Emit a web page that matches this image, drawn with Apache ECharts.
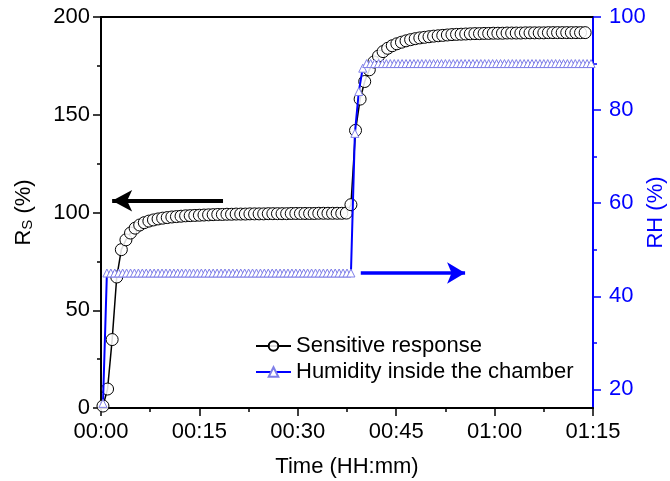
<!DOCTYPE html>
<html>
<head>
<meta charset="utf-8">
<script src="https://cdn.jsdelivr.net/npm/echarts@6/dist/echarts.min.js"></script>
<style>
html,body{margin:0;padding:0;background:#fff;overflow:hidden;width:670px;height:481px;}
#chart{width:670px;height:481px;}
</style>
</head>
<body>
<div id="chart"></div>
<script>
// ---- data ----
// Sensitive response Rs (%), sampled every 0.7 min starting at 0.3 min
const rsStartMin = 0.3;
const rsStepMin = 0.7;
const rsValues = [
  1, 9.7, 35, 67, 81, 86, 89.5, 92, 93.6, 94.8,
  95.6, 96.2, 96.7, 97.1, 97.4, 97.7, 97.9, 98.1, 98.3, 98.4,
  98.5, 98.6, 98.7, 98.8, 98.9, 99.0, 99.0, 99.1, 99.1, 99.2,
  99.2, 99.2, 99.3, 99.3, 99.3, 99.3, 99.4, 99.4, 99.4, 99.4,
  99.4, 99.5, 99.5, 99.5, 99.5, 99.5, 99.5, 99.6, 99.6, 99.6,
  99.6, 99.6, 99.6, 99.7, 104, 142, 158, 167, 173, 177,
  180, 182.3, 184, 185.3, 186.3, 187.1, 187.8, 188.4, 188.9, 189.3,
  189.6, 189.9, 190.2, 190.4, 190.6, 190.8, 191.0, 191.1, 191.2, 191.3,
  191.4, 191.5, 191.5, 191.6, 191.6, 191.7, 191.7, 191.7, 191.8, 191.8,
  191.8, 191.8, 191.9, 191.9, 191.9, 191.9, 191.9, 192.0, 192.0, 192.0,
  192.0, 192.0, 192.0, 192.0, 192.0, 192.0
];
// Humidity inside the chamber RH (%), sampled every 0.6 min starting at 0.3 min
const rhStartMin = 0.3;
const rhStepMin = 0.6;
const rhValues = [
  17,
  45, 45, 45, 45, 45, 45, 45, 45, 45, 45, 45, 45, 45, 45, 45, 45, 45, 45, 45, 45, 45,
  45, 45, 45, 45, 45, 45, 45, 45, 45, 45, 45, 45, 45, 45, 45, 45, 45, 45, 45, 45, 45,
  45, 45, 45, 45, 45, 45, 45, 45, 45, 45, 45, 45, 45, 45, 45, 45, 45, 45, 45, 45, 45,
  75, 84, 89,
  90, 90, 90, 90, 90, 90, 90, 90, 90, 90, 90, 90, 90, 90, 90, 90, 90, 90, 90, 90,
  90, 90, 90, 90, 90, 90, 90, 90, 90, 90, 90, 90, 90, 90, 90, 90, 90, 90, 90, 90,
  90, 90, 90, 90, 90, 90, 90, 90, 90, 90, 90, 90, 90, 90, 90, 90, 90, 90
];
const timeTickLabels = ['00:00', '00:15', '00:30', '00:45', '01:00', '01:15'];
const rhMajorTicks = [20, 40, 60, 80, 100];
const rhMinorTicks = [30, 50, 70, 90];
const seriesNames = ['Sensitive response', 'Humidity inside the chamber'];
// annotation arrows (data coordinates)
const rsArrow = [[18.6, 106], [1.7, 106]];
const rhArrow = [[39.6, 45], [55.5, 45]];

const rsData = rsValues.map((v, i) => [rsStartMin + i * rsStepMin, v]);
const rhData = rhValues.map((v, i) => [rhStartMin + i * rhStepMin, v]);

const FONT = 'Liberation Sans, Arial, Helvetica, sans-serif';
const FS = 22;
const BLUE = '#0000ff';
const GRID = {left: 101, right: 77, top: 17, bottom: 73, containLabel: false, outerBoundsMode: 'none'};

const chart = echarts.init(document.getElementById('chart'), null, {renderer: 'canvas', width: 670, height: 481});
chart.setOption({
  animation: false,
  backgroundColor: '#fff',
  textStyle: {fontFamily: FONT},
  grid: [Object.assign({}, GRID), Object.assign({}, GRID)],
  legend: {
    orient: 'vertical',
    left: 250,
    top: 330,
    itemWidth: 35,
    itemHeight: 12,
    itemGap: 4,
    textStyle: {fontFamily: FONT, fontSize: FS, color: '#000'},
    data: seriesNames
  },
  xAxis: [{
    type: 'value',
    gridIndex: 0,
    min: 0, max: 75, interval: 15,
    name: 'Time (HH:mm)',
    nameLocation: 'middle',
    nameGap: 48,
    nameMoveOverlap: false,
    nameTextStyle: {fontFamily: FONT, fontSize: FS, color: '#000'},
    axisLine: {show: true, onZero: false, lineStyle: {color: '#000', width: 2}},
    axisTick: {show: true, length: 8, lineStyle: {color: '#000', width: 1.5}},
    minorTick: {show: true, splitNumber: 2, length: 4, lineStyle: {color: '#000', width: 1.5}},
    axisLabel: {
      fontFamily: FONT, fontSize: FS, color: '#000', margin: 13,
      formatter: v => timeTickLabels[Math.round(v / 15)]
    },
    splitLine: {show: false}
  }, {
    type: 'value',
    gridIndex: 0,
    position: 'top',
    min: 0, max: 75,
    axisLine: {show: true, onZero: false, lineStyle: {color: '#000', width: 2}},
    axisTick: {show: false},
    axisLabel: {show: false},
    splitLine: {show: false}
  }, {
    type: 'value',
    gridIndex: 1,
    min: 0, max: 75,
    show: false
  }],
  yAxis: [{
    type: 'value',
    gridIndex: 0,
    position: 'left',
    min: 0, max: 200, interval: 50,
    name: '{a|R}{b|S}{a| (%)}',
    nameLocation: 'middle',
    nameGap: 66,
    nameMoveOverlap: false,
    nameRotate: 90,
    nameTextStyle: {
      rich: {
        a: {fontFamily: FONT, fontSize: FS, color: '#000'},
        b: {fontFamily: FONT, fontSize: 15, color: '#000', verticalAlign: 'bottom', padding: [8, 0, 0, 0]}
      }
    },
    axisLine: {show: true, onZero: false, lineStyle: {color: '#000', width: 2}},
    axisTick: {show: true, length: 8, lineStyle: {color: '#000', width: 1.5}},
    minorTick: {show: true, splitNumber: 2, length: 4, lineStyle: {color: '#000', width: 1.5}},
    axisLabel: {fontFamily: FONT, fontSize: FS, color: '#000', margin: 11},
    splitLine: {show: false}
  }, {
    type: 'value',
    gridIndex: 0,
    position: 'right',
    min: 16, max: 100,
    name: 'RH (%)',
    nameLocation: 'middle',
    nameGap: 52,
    nameMoveOverlap: false,
    nameRotate: 90,
    nameTextStyle: {fontFamily: FONT, fontSize: FS, color: BLUE},
    axisLine: {show: true, onZero: false, lineStyle: {color: BLUE, width: 2}},
    axisTick: {show: true, length: 8, customValues: rhMajorTicks, lineStyle: {color: BLUE, width: 1.5}},
    axisLabel: {fontFamily: FONT, fontSize: FS, color: BLUE, margin: 16, customValues: rhMajorTicks},
    splitLine: {show: false}
  }, {
    type: 'value',
    gridIndex: 1,
    position: 'right',
    min: 16, max: 100,
    axisLine: {show: false, onZero: false},
    axisTick: {show: true, length: 4, customValues: rhMinorTicks, lineStyle: {color: BLUE, width: 1.5}},
    axisLabel: {show: false},
    splitLine: {show: false}
  }],
  series: [{
    name: seriesNames[0],
    type: 'line',
    xAxisIndex: 0,
    yAxisIndex: 0,
    data: rsData,
    symbol: 'circle',
    symbolSize: 12,
    showAllSymbol: true,
    lineStyle: {color: '#000', width: 1.5},
    itemStyle: {color: 'rgba(255,255,255,0.85)', borderColor: '#000', borderWidth: 1},
    z: 2,
    markLine: {
      silent: true,
      symbol: ['none', 'arrow'],
      symbolSize: [16, 20],
      label: {show: false},
      lineStyle: {color: '#000', width: 4, type: 'solid'},
      data: [[{coord: rsArrow[0]}, {coord: rsArrow[1]}]]
    }
  }, {
    name: seriesNames[1],
    type: 'line',
    xAxisIndex: 0,
    yAxisIndex: 1,
    data: rhData,
    symbol: 'triangle',
    symbolSize: 8,
    showAllSymbol: true,
    lineStyle: {color: BLUE, width: 2},
    itemStyle: {color: '#ffffff', borderColor: '#7f7fe8', borderWidth: 1},
    z: 3,
    markLine: {
      silent: true,
      symbol: ['none', 'arrow'],
      symbolSize: [16, 18],
      label: {show: false},
      lineStyle: {color: BLUE, width: 3.5, type: 'solid'},
      data: [[{coord: rhArrow[0]}, {coord: rhArrow[1]}]]
    }
  }]
});
</script>
</body>
</html>
